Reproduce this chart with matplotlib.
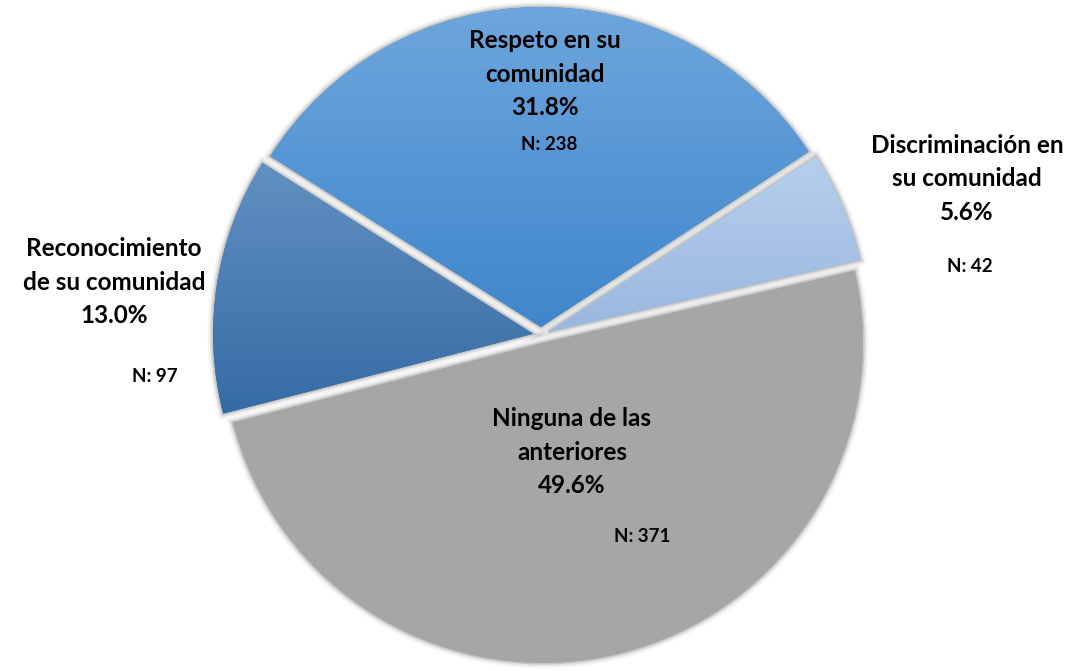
import numpy as np
import matplotlib.pyplot as plt
from matplotlib import patheffects as pe
from matplotlib.colors import LinearSegmentedColormap

# answer categories, counted responses (drawn counter-clockwise from startangle)
labels = ['Discriminación en\nsu comunidad', 'Respeto en su\ncomunidad',
          'Reconocimiento\nde su comunidad', 'Ninguna de las\nanteriores']
counts = [42, 238, 97, 371]

# vertical gradient per slice: top colour -> bottom colour
top_colors = ['#b6cfed', '#6ea6dd', '#6290c2', '#a6a6a6']
bottom_colors = ['#9ab7df', '#3f86cc', '#356ba4', '#a6a6a6']

# where each label block and its N sits (pixel coords, y measured from top)
label_pos = [(967, 179), (545, 74), (114, 282), (572, 452)]
n_pos = [(970, 266), (549, 145), (155, 376), (642, 537)]

W, H = 1069, 671
fig = plt.figure(figsize=(W / 100, H / 100), dpi=100)
ax = fig.add_axes([0, 0, 1, 1])

cx, cy, r = 541, H - 335, 320
# pie's explode is in data units here (pixels), not a fraction of radius
wedges, _ = ax.pie(counts, startangle=13, counterclock=True,
                   explode=[8] * 4, radius=r, center=(cx, cy),
                   wedgeprops=dict(linewidth=0))
ax.set_xlim(0, W)
ax.set_ylim(0, H)
ax.set_aspect('equal')
ax.axis('off')

# soft shadow around every slice
soft = [pe.Stroke(linewidth=8, foreground='black', alpha=0.04),
        pe.Stroke(linewidth=5, foreground='black', alpha=0.07),
        pe.Stroke(linewidth=2.5, foreground='black', alpha=0.12),
        pe.Normal()]

for w, c0, c1 in zip(wedges, top_colors, bottom_colors):
    w.set_facecolor(c1)
    w.set_path_effects(soft)
    pts = ax.transData.inverted().transform(w.get_verts())
    x0, y0 = pts.min(axis=0)
    x1, y1 = pts.max(axis=0)
    cmap = LinearSegmentedColormap.from_list('g', [c0, c1])
    grad = np.linspace(0, 1, 256).reshape(-1, 1)
    im = ax.imshow(grad, cmap=cmap, extent=(x0, x1, y0, y1), origin='upper',
                   aspect='auto', zorder=w.get_zorder() + 0.1)
    im.set_clip_path(w)

ax.set_xlim(0, W)
ax.set_ylim(0, H)

fam = ['Lato', 'DejaVu Sans']
total = sum(counts)
for lab, n, (lx, ly), (nx, ny) in zip(labels, counts, label_pos, n_pos):
    pct = 100 * n / total
    ax.text(lx, H - ly, f'{lab}\n{pct:.1f}%', ha='center', va='center',
            fontsize=17.5, fontweight='bold', family=fam, linespacing=1.55,
            color='black', zorder=5)
    ax.text(nx, H - ny, f'N: {n}', ha='center', va='center',
            fontsize=13.5, fontweight='bold', family=fam, color='black', zorder=5)

fig.savefig('out.png', dpi=100, facecolor='white')
